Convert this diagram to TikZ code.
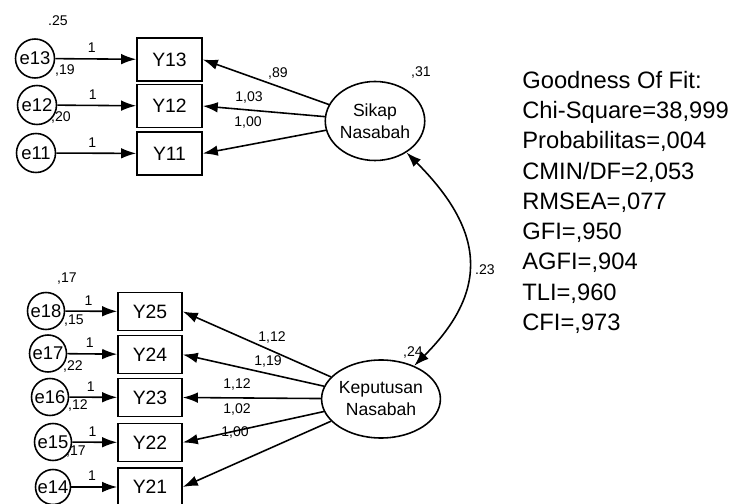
\documentclass[tikz,border=0pt]{standalone}
\usepackage{fontspec}
\setmainfont{Liberation Sans}
\usetikzlibrary{shapes.geometric,arrows.meta}
\begin{document}
\begin{tikzpicture}[
      ind/.style={draw,line width=0.9pt,minimum width=1.3cm,minimum height=0.86cm,
                  inner sep=0pt,font=\fontsize{11}{13}\selectfont},
      err/.style={draw,line width=0.9pt,circle,inner sep=0pt,minimum size=0.78cm,
                  font=\fontsize{10.5}{13}\selectfont},
      lat/.style={draw,line width=0.9pt,ellipse,align=center,inner sep=0pt,
                  font=\fontsize{10}{12.5}\selectfont},
      num/.style={inner sep=1pt,font=\fontsize{8}{9}\selectfont},
      arr/.style={-{Latex[length=3mm,width=2.1mm]},line width=0.9pt},
      dbl/.style={{Latex[length=3mm,width=2.1mm]}-{Latex[length=3mm,width=2.1mm]},line width=0.9pt}
    ]
    \useasboundingbox (0,0) rectangle (14.86,-10.08);
    % Sikap Nasabah block
    \node[ind] (y13) at (3.39,-1.19) {Y13};
    \node[ind] (y12) at (3.39,-2.12) {Y12};
    \node[ind] (y11) at (3.39,-3.07) {Y11};
    \node[err] (e13) at (0.70,-1.17) {e13};
    \node[err] (e12) at (0.74,-2.10) {e12};
    \node[err] (e11) at (0.72,-3.06) {e11};
    \node[lat, minimum width=1.92cm, minimum height=1.58cm] (sikap) at (7.50,-2.42) {Sikap\\Nasabah};
    % Keputusan Nasabah block
    \node[ind, minimum width=1.28cm, minimum height=0.76cm] (y25) at (3.00,-6.23) {Y25};
    \node[ind, minimum width=1.28cm, minimum height=0.76cm] (y24) at (3.00,-7.09) {Y24};
    \node[ind, minimum width=1.28cm, minimum height=0.76cm] (y23) at (3.00,-7.95) {Y23};
    \node[ind, minimum width=1.28cm, minimum height=0.76cm] (y22) at (3.00,-8.85) {Y22};
    \node[ind, minimum width=1.28cm, minimum height=0.76cm] (y21) at (3.00,-9.74) {Y21};
    \node[err, minimum size=0.74cm] (e18) at (0.92,-6.22) {e18};
    \node[err, minimum size=0.74cm] (e17) at (0.96,-7.07) {e17};
    \node[err, minimum size=0.74cm] (e16) at (1.00,-7.94) {e16};
    \node[err, minimum size=0.74cm] (e15) at (1.06,-8.84) {e15};
    \node[err, minimum size=0.70cm] (e14) at (1.06,-9.74) {e14};
    \node[lat, minimum width=2.34cm, minimum height=1.56cm] (kep) at (7.62,-7.98) {Keputusan\\Nasabah};
    % Arrows
    \draw[arr] (e13) -- node[num,above=2pt,pos=0.45] {1} (y13);
    \draw[arr] (e12) -- node[num,above=2pt,pos=0.45] {1} (y12);
    \draw[arr] (e11) -- node[num,above=2pt,pos=0.45] {1} (y11);
    \draw[arr] (e18) -- node[num,above=2pt,pos=0.45] {1} (y25);
    \draw[arr] (e17) -- node[num,above=2pt,pos=0.45] {1} (y24);
    \draw[arr] (e16) -- node[num,above=2pt,pos=0.45] {1} (y23);
    \draw[arr] (e15) -- node[num,above=2pt,pos=0.45] {1} (y22);
    \draw[arr] (e14) -- node[num,above=2pt,pos=0.45] {1} (y21);
    \draw[arr] (sikap) -- (y13.east);
    \draw[arr] (sikap) -- (y12.east);
    \draw[arr] (sikap) -- (y11.east);
    \draw[arr] (kep) -- (y25.east);
    \draw[arr] (kep) -- (y24.east);
    \draw[arr] (kep) -- (y23.east);
    \draw[arr] (kep) -- (y22.east);
    \draw[arr] (kep) -- (y21.east);
    \draw[dbl] (sikap.-45) to[out=-45,in=45,looseness=1.3] (kep.45);
    % Estimates
    \node[num] (v13) at (1.16,-0.42) {.25};
    \node[num] (v12) at (1.30,-1.40) {,19};
    \node[num] (v11) at (1.22,-2.34) {,20};
    \node[num] (v18) at (1.34,-5.58) {,17};
    \node[num] (v17) at (1.48,-6.42) {,15};
    \node[num] (v16) at (1.46,-7.32) {,22};
    \node[num] (v15) at (1.56,-8.10) {,12};
    \node[num] (v14) at (1.52,-9.04) {,17};
    \node[num] (l13) at (5.56,-1.46) {,89};
    \node[num] (l12) at (4.98,-1.94) {1,03};
    \node[num] (l11) at (4.96,-2.44) {1,00};
    \node[num] (l25) at (5.44,-6.74) {1,12};
    \node[num] (l24) at (5.36,-7.22) {1,19};
    \node[num] (l23) at (4.74,-7.68) {1,12};
    \node[num] (l22) at (4.74,-8.18) {1,02};
    \node[num] (l21) at (4.70,-8.64) {1,00};
    \node[num] (vs) at (8.42,-1.44) {,31};
    \node[num] (vk) at (8.26,-7.04) {,24};
    \node[num] (cov) at (9.70,-5.40) {.23};
    % Fit indices
    \node[anchor=north west,align=left,inner sep=0pt,
          font=\fontsize{13.5}{17.2}\selectfont] (fit) at (10.44,-1.42)
      {Goodness Of Fit:\\Chi-Square=38,999\\Probabilitas=,004\\CMIN/DF=2,053\\
       RMSEA=,077\\GFI=,950\\AGFI=,904\\TLI=,960\\CFI=,973};
  \end{tikzpicture}
\end{document}
